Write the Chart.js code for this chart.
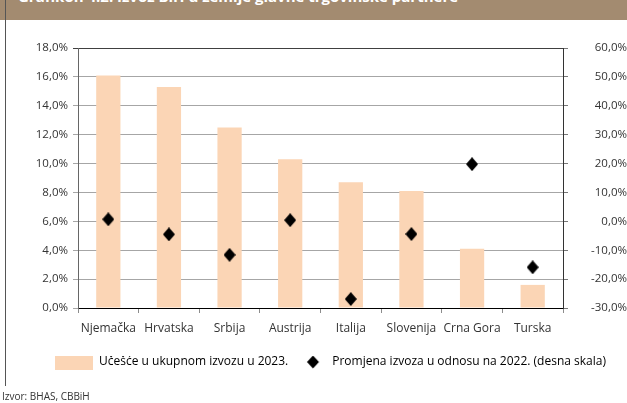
<!DOCTYPE html>
<html><head><meta charset="utf-8">
<script src="https://cdn.jsdelivr.net/npm/chart.js@4.4.1/dist/chart.umd.min.js"></script>
<style>
html,body{margin:0;padding:0;background:#fff;width:627px;height:403px;overflow:hidden;}
#band{position:absolute;left:0;top:0;width:627px;height:20px;background:#A38B70;overflow:hidden;}
#band span{position:absolute;left:18px;top:-11px;font:bold 15px 'Open Sans';line-height:15px;color:#fff;white-space:nowrap;}
#vline{position:absolute;left:5px;top:0;width:1px;height:386px;background:#555;z-index:3;}
#src{position:absolute;left:2px;top:389px;font:10px 'Open Sans';line-height:14px;color:#333;white-space:nowrap;}
#wrap{position:absolute;left:0;top:0;width:627px;height:403px;}
</style></head><body>
<div id="band"><span>Grafikon 4.2: Izvoz BiH u zemlje glavne trgovinske partnere</span></div>
<div id="vline"></div>
<div id="wrap"><canvas id="c" width="627" height="403"></canvas></div>
<div id="src">Izvor: BHAS, CBBiH</div>
<script>
// ---- data ----
const categories = ["Njemačka","Hrvatska","Srbija","Austrija","Italija","Slovenija","Crna Gora","Turska"];
const shareValues = [16.1, 15.3, 12.5, 10.3, 8.7, 8.1, 4.1, 1.6];      // left scale, %
const changeValues = [0.7, -4.5, -11.6, 0.4, -26.9, -4.4, 19.8, -15.9]; // right scale, %
const shareLabel = "Učešće u ukupnom izvozu u 2023.";
const changeLabel = "Promjena izvoza u odnosu na 2022. (desna skala)";
const leftTicks = {min: 0, max: 18, step: 2};
const rightTicks = {min: -30, max: 60, step: 10};

const BAR_COLOR = '#FBD5B5';
const FONT = "'Open Sans'";
const fmt = v => v.toFixed(1).replace('.', ',') + '%';

function diamond(w, h, cx, cw, ch) {
  const cv = document.createElement('canvas');
  cv.width = cw || w; cv.height = ch || h;
  const g = cv.getContext('2d');
  const x0 = (cx === undefined ? cv.width / 2 : cx), y0 = cv.height / 2;
  g.fillStyle = '#000';
  g.beginPath();
  g.moveTo(x0, y0 - h / 2); g.lineTo(x0 + w / 2, y0); g.lineTo(x0, y0 + h / 2); g.lineTo(x0 - w / 2, y0);
  g.closePath(); g.fill();
  return cv;
}
function swatch(w, h) {
  const cv = document.createElement('canvas');
  cv.width = w; cv.height = h;
  const g = cv.getContext('2d');
  g.fillStyle = BAR_COLOR; g.fillRect(0, 0, w, h);
  return cv;
}

Promise.all([document.fonts.load("12px 'Open Sans'"), document.fonts.load("bold 15px 'Open Sans'"), document.fonts.load("10px 'Open Sans'")]).then(build, build);

function build() {
  const m = document.createElement('canvas').getContext('2d');
  m.font = "12px " + FONT;
  const T1 = m.measureText(shareLabel).width;
  const T2 = m.measureText(changeLabel).width;
  const LEG_X = 55, BOXW = 38;
  const p = 0;
  const start2 = LEG_X + BOXW + 6 + T1 + p;
  const d = Math.min(32, Math.max(6, 313 - start2));
  const lineWidth = (BOXW + 6 + T1 + p) + (BOXW + 6 + T2 + p);
  const R = 0;
  const L = 2 * LEG_X - p - 627 + R + lineWidth;   // centred legend row then starts at LEG_X
  const B = 25;
  const legendH = 12 + p + 10;
  const Hx = (403 - B - legendH) - 308;

  const pointImg = diamond(12, 14);
  const legBar = swatch(38, 16);
  const legDia = diamond(12, 13, d, 38, 16);

  new Chart(document.getElementById('c'), {
    type: 'bar',
    data: {
      labels: categories,
      datasets: [
        { label: shareLabel, data: shareValues, backgroundColor: BAR_COLOR, borderWidth: 0,
          yAxisID: 'y', order: 2, barPercentage: 0.5, categoryPercentage: 0.8 },
        { type: 'line', label: changeLabel, data: changeValues, yAxisID: 'y1', order: 1,
          showLine: false, pointStyle: pointImg, pointRadius: 7, pointHoverRadius: 7,
          backgroundColor: '#000', borderColor: '#000' }
      ]
    },
    options: {
      responsive: false, animation: false, devicePixelRatio: 1,
      layout: { padding: { top: 48, left: L, right: R, bottom: B } },
      plugins: {
        tooltip: { enabled: false },
        legend: {
          position: 'bottom', align: 'center',
          labels: {
            usePointStyle: true, pointStyleWidth: BOXW, boxHeight: 12, padding: p,
            color: '#222', font: { family: FONT, size: 12 },
            generateLabels: () => [
              { text: shareLabel, pointStyle: legBar, fillStyle: BAR_COLOR, strokeStyle: BAR_COLOR, lineWidth: 0, hidden: false, datasetIndex: 0 },
              { text: changeLabel, pointStyle: legDia, fillStyle: '#000', strokeStyle: '#000', lineWidth: 0, hidden: false, datasetIndex: 1 }
            ]
          }
        }
      },
      scales: {
        x: {
          grid: { drawOnChartArea: false, tickLength: 5, color: '#8c8c8c', offset: true },
          border: { color: '#000', width: 1 },
          ticks: { color: '#333', font: { family: FONT, size: 12 }, padding: 8, maxRotation: 0, autoSkip: false },
          afterFit: s => { s.height = Hx; }
        },
        y: {
          position: 'left', min: leftTicks.min, max: leftTicks.max,
          ticks: { stepSize: leftTicks.step, callback: v => fmt(v), color: '#333', font: { family: FONT, size: 11.5 }, padding: 5 },
          grid: { color: c => (c.tick && c.tick.value === leftTicks.max) ? '#404040' : '#a6a6a6', tickLength: 5 },
          border: { color: '#666', width: 1 },
          afterFit: s => { s.width = 78 - L; }
        },
        y1: {
          position: 'right', min: rightTicks.min, max: rightTicks.max,
          ticks: { stepSize: rightTicks.step, callback: v => fmt(v), color: '#333', font: { family: FONT, size: 11.5 }, padding: 8, crossAlign: 'far' },
          grid: { drawOnChartArea: false, tickLength: 5, color: '#777' },
          border: { color: '#333', width: 1 },
          afterFit: s => { s.width = 627 - R - 563; }
        }
      }
    }
  });
}
</script>
</body></html>
